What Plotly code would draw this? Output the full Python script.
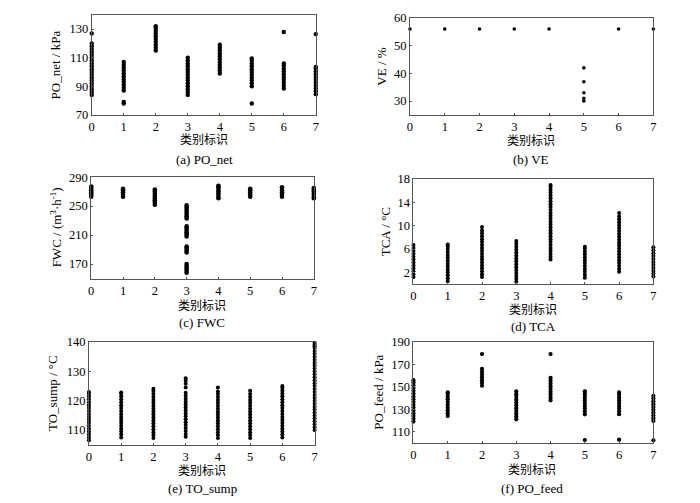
import plotly.graph_objects as go

categories = [0, 1, 2, 3, 4, 5, 6, 7]
x_ticks = [0, 1, 2, 3, 4, 5, 6, 7]

po_net = [
    [84, 86, 88, 90, 92, 94, 96, 98, 100, 102, 104, 106, 108, 110, 112, 114, 116, 118, 120, 127],
    [78, 79, 87, 89, 91, 93, 95, 97, 99, 101, 103, 105, 107],
    [115, 117, 119, 121, 123, 125, 127, 129, 131, 132],
    [84, 86, 88, 90, 92, 94, 96, 98, 100, 102, 104, 106, 108, 110],
    [99, 101, 103, 105, 107, 109, 111, 113, 115, 117, 119],
    [78, 90, 92, 94, 96, 98, 100, 102, 104, 106, 108, 109.5],
    [88.5, 90.5, 92.5, 94.5, 96.5, 98.5, 100.5, 102.5, 104.5, 106, 128],
    [84.5, 86.5, 88.5, 90.5, 92.5, 94.5, 96.5, 98.5, 100.5, 102.5, 103.5, 126.5],
]
ve = [
    [56], [56], [56], [56], [56],
    [42, 37, 33, 31, 30],
    [56], [56],
]
fwc = [
    [263, 266, 269, 272, 275, 277],
    [263, 266, 269, 272, 274],
    [252, 255, 258, 261, 264, 267, 270, 273],
    [158, 161, 164, 167, 170, 186, 189, 192, 194, 208, 211, 214, 217, 220, 222,
     233, 236, 239, 242, 245, 248, 251],
    [261, 264, 267, 270, 273, 276, 278],
    [263, 266, 269, 272, 274],
    [263, 266, 269, 272, 276],
    [261, 264, 267, 270, 273, 275],
]
tca = [
    [1.2, 1.7, 2.2, 2.7, 3.2, 3.7, 4.2, 4.7, 5.2, 5.7, 6.2, 6.7],
    [0.5, 1.0, 1.5, 2.0, 2.5, 3.0, 3.5, 4.0, 4.5, 5.0, 5.5, 6.0, 6.5, 6.8],
    [1.2, 1.7, 2.2, 2.7, 3.2, 3.7, 4.2, 4.7, 5.2, 5.7, 6.2, 6.7, 7.2, 7.7, 8.2, 8.7, 9.2, 9.8],
    [0.4, 0.9, 1.4, 1.9, 2.4, 2.9, 3.4, 3.9, 4.4, 4.9, 5.4, 5.9, 6.4, 6.9, 7.4],
    [4.2, 4.7, 5.2, 5.7, 6.2, 6.7, 7.2, 7.7, 8.2, 8.7, 9.2, 9.7, 10.2, 10.7, 11.2, 11.7,
     12.2, 12.7, 13.2, 13.7, 14.2, 14.7, 15.2, 15.7, 16.2, 16.7, 17.0],
    [1.1, 1.6, 2.1, 2.6, 3.1, 3.6, 4.1, 4.6, 5.1, 5.6, 6.1, 6.4],
    [2.1, 2.6, 3.1, 3.6, 4.1, 4.6, 5.1, 5.6, 6.1, 6.6, 7.1, 7.6, 8.1, 8.6, 9.1, 9.6,
     10.1, 10.6, 11.1, 11.6, 12.2],
    [1.3, 1.8, 2.3, 2.8, 3.3, 3.8, 4.3, 4.8, 5.3, 5.8, 6.3],
]
to_sump = [
    [106.5, 107.5, 108.5, 109.5, 110.5, 111.5, 112.5, 113.5, 114.5, 115.5, 116.5, 117.5,
     118.5, 119.5, 120.5, 121.5, 122.5, 123],
    [107.5, 108.5, 109.5, 110.5, 111.5, 112.5, 113.5, 114.5, 115.5, 116.5, 117.5, 118.5,
     119.5, 120.5, 121.5, 122.5, 122.8],
    [107.3, 108.3, 109.3, 110.3, 111.3, 112.3, 113.3, 114.3, 115.3, 116.3, 117.3, 118.3,
     119.3, 120.3, 121.3, 122.3, 123.3, 124.1],
    [107.7, 108.7, 109.7, 110.7, 111.7, 112.7, 113.7, 114.7, 115.7, 116.7, 117.7, 118.7,
     119.7, 120.7, 121.7, 122.7, 124.5, 125.8, 126.8, 127.7],
    [107.3, 108.3, 109.3, 110.3, 111.3, 112.3, 113.3, 114.3, 115.3, 116.3, 117.3, 118.3,
     119.3, 120.3, 121.3, 122.3, 123.2, 124.5],
    [107.3, 108.3, 109.3, 110.3, 111.3, 112.3, 113.3, 114.3, 115.3, 116.3, 117.3, 118.3,
     119.3, 120.3, 121.3, 122.3, 123.4],
    [107.5, 108.5, 109.5, 110.5, 111.5, 112.5, 113.5, 114.5, 115.5, 116.5, 117.5, 118.5,
     119.5, 120.5, 121.5, 122.5, 123.5, 124.4, 125],
    [110, 111, 112, 113, 114, 115, 116, 117, 118, 119, 120, 121, 122, 123, 124, 125, 126,
     127, 128, 129, 130, 131, 132, 133, 134, 135, 136, 137, 138, 138.6, 139.2, 139.8],
]
po_feed = [
    [119, 121.5, 124, 126.5, 129, 131.5, 134, 136.5, 139, 141.5, 144, 146.5, 149, 151.5, 154, 156],
    [124, 126.5, 129, 131.5, 134, 136.5, 139, 141.5, 144, 145],
    [151, 153.5, 156, 158.5, 161, 163.5, 166, 179.3],
    [121, 123.5, 126, 128.5, 131, 133.5, 136, 138.5, 141, 143.5, 146],
    [138, 140.5, 143, 145.5, 148, 150.5, 153, 155.5, 158, 179.3],
    [102.5, 125.5, 128, 130.5, 133, 135.5, 138, 140.5, 143, 145.5, 146],
    [102.8, 125.6, 128, 130.5, 133, 135.5, 138, 140.5, 143, 145],
    [102.2, 119.6, 122, 124.5, 127, 129.5, 132, 134.5, 137, 139.5, 142],
]

panels = [
    dict(data=po_net, yr=[70, 140], yt=[70, 90, 110, 130], ytitle="PO_net / kPa",
         cap="(a) PO_net", xd=[89.5, 315.5], yd=[8, 111], yx=53, xc=203,
         xtl=137, cy=157, ms=4.4),
    dict(data=ve, yr=[25, 60], yt=[30, 40, 50, 60], ytitle="VE / %",
         cap="(b) VE", xd=[410.5, 656], yd=[11.3, 111], yx=381.5, xc=533,
         xtl=138, cy=157, ms=3.6),
    dict(data=fwc, yr=[150, 290], yt=[170, 210, 250, 290],
         ytitle="FWC / (m<sup>3</sup>·h<sup>-1</sup>)",
         cap="(c) FWC", xd=[89, 313.5], yd=[175, 279.3], yx=53, xc=201,
         xtl=307.7, cy=324.3, ms=4.6),
    dict(data=tca, yr=[0, 18], yt=[2, 6, 10, 14, 18], ytitle="TCA / °C",
         cap="(d) TCA", xd=[414, 656], yd=[177, 285], yx=386, xc=535,
         xtl=311.7, cy=328.3, ms=4.0),
    dict(data=to_sump, yr=[105, 140], yt=[110, 120, 130, 140], ytitle="TO_sump / °C",
         cap="(e) TO_sump", xd=[86.7, 314.3], yd=[344.7, 450.3], yx=50, xc=201,
         xtl=477, cy=495.7, ms=4.0),
    dict(data=po_feed, yr=[100, 190], yt=[110, 130, 150, 170, 190], ytitle="PO_feed / kPa",
         cap="(f) PO_feed", xd=[414, 656], yd=[344.7, 448.3], yx=378.5, xc=534,
         xtl=476.3, cy=495.3, ms=4.2),
]

W, H = 700, 503
FONT = "Liberation Serif, Times New Roman, Noto Sans CJK SC, serif"

fig = go.Figure()
annotations = []
layout = {}
for i, p in enumerate(panels):
    n = "" if i == 0 else str(i + 1)
    xs, ys = [], []
    for c, vals in zip(categories, p["data"]):
        xs += [c] * len(vals)
        ys += vals
    fig.add_trace(go.Scatter(
        x=xs, y=ys, mode="markers", xaxis="x" + n, yaxis="y" + n,
        marker=dict(color="black", size=p["ms"], line=dict(width=0)),
        cliponaxis=False, showlegend=False, hoverinfo="skip"))
    axcommon = dict(showline=True, linecolor="#555", linewidth=1, mirror=True,
                    ticks="inside", ticklen=2, tickcolor="#555", showgrid=False,
                    zeroline=False, tickfont=dict(family=FONT, size=12.5, color="black"))
    layout["xaxis" + n] = dict(axcommon, domain=[p["xd"][0] / W, p["xd"][1] / W],
                               range=[0, 7], tickvals=x_ticks,
                               anchor="y" + n)
    layout["yaxis" + n] = dict(axcommon, domain=[1 - p["yd"][1] / H, 1 - p["yd"][0] / H],
                               range=p["yr"], tickvals=p["yt"], anchor="x" + n)
    ymid = (p["yd"][0] + p["yd"][1]) / 2
    annotations.append(dict(text=p["ytitle"], x=p["yx"] / W, y=1 - ymid / H,
                            xref="paper", yref="paper", showarrow=False, textangle=-90,
                            xanchor="center", yanchor="middle",
                            font=dict(family=FONT, size=13, color="black")))
    annotations.append(dict(text="类别标识", x=p["xc"] / W, y=1 - p["xtl"] / H,
                            xref="paper", yref="paper", showarrow=False,
                            xanchor="center", yanchor="middle",
                            font=dict(family=FONT, size=12, color="black")))
    annotations.append(dict(text=p["cap"], x=p["xc"] / W, y=1 - p["cy"] / H,
                            xref="paper", yref="paper", showarrow=False,
                            xanchor="center", yanchor="middle",
                            font=dict(family=FONT, size=13, color="black")))

fig.update_layout(width=W, height=H, autosize=False,
                  margin=dict(l=0, r=0, t=0, b=0, pad=0),
                  paper_bgcolor="white", plot_bgcolor="white",
                  annotations=annotations, **layout)
fig.write_html("out.html", config={"displayModeBar": False},
               post_script="document.body.style.margin='0';document.body.style.overflow='hidden';")
